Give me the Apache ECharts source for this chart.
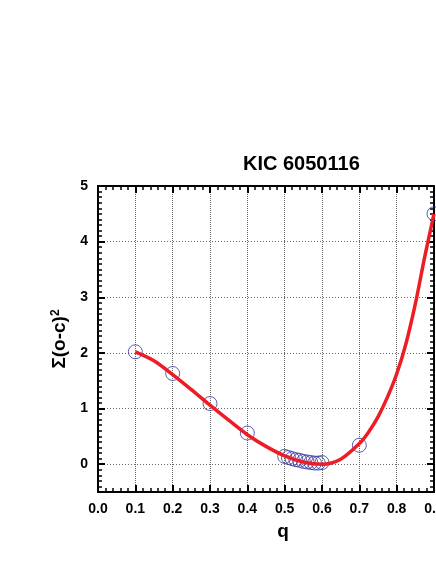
<!DOCTYPE html>
<html>
<head>
<meta charset="utf-8">
<script src="https://cdn.jsdelivr.net/npm/echarts@6/dist/echarts.min.js"></script>
<style>
  html, body { margin: 0; padding: 0; background: #fff; }
  #chart { width: 436px; height: 564px; }
</style>
</head>
<body>
<div id="chart"></div>
<script>
// observed points (open circles)
const qObs = [0.1, 0.2, 0.3, 0.4, 0.50, 0.51, 0.52, 0.53, 0.54, 0.55, 0.56, 0.57, 0.58, 0.59, 0.60, 0.7, 0.9]
const sumObs = [2.02, 1.63, 1.09, 0.56, 0.14, 0.12, 0.10, 0.08, 0.07, 0.05, 0.04, 0.03, 0.02, 0.02, 0.03, 0.34, 4.50]

// fitted curve (red line)
const qFit = [0.10, 0.15, 0.20, 0.25, 0.30, 0.35, 0.40, 0.45, 0.50, 0.55, 0.60, 0.65, 0.70, 0.725, 0.75, 0.775, 0.80, 0.825, 0.85, 0.875, 0.90]
const sumFit = [2.02, 1.86, 1.61, 1.34, 1.06, 0.79, 0.53, 0.32, 0.15, 0.04, 0.00, 0.09, 0.37, 0.58, 0.85, 1.20, 1.62, 2.17, 2.88, 3.72, 4.50]

const xTickLabels = ['0.0', '0.1', '0.2', '0.3', '0.4', '0.5', '0.6', '0.7', '0.8', '0.9']

const font = 'Liberation Sans, Arial, sans-serif'

const axisCommon = {
  axisLine: { show: true, onZero: false, lineStyle: { color: '#000', width: 2 } },
  axisTick: { show: true, inside: true, length: 7, lineStyle: { color: '#000', width: 2 } },
  minorTick: { show: true, length: 4, lineStyle: { color: '#000', width: 1.5 } }
}

const chart = echarts.init(document.getElementById('chart'), null, { renderer: 'canvas' })

chart.setOption({
  animation: false,
  backgroundColor: '#fff',
  title: {
    text: 'KIC 6050116',
    left: 243,
    top: 154,
    padding: 0,
    textStyle: { fontFamily: font, fontWeight: 'bold', fontSize: 20, color: '#000' }
  },
  grid: { left: 98, right: 2, top: 186, bottom: 72, outerBoundsMode: 'none', containLabel: false },
  xAxis: [
    {
      ...axisCommon,
      type: 'value',
      position: 'bottom',
      min: 0,
      max: 0.9,
      interval: 0.1,
      minorTick: { ...axisCommon.minorTick, splitNumber: 5 },
      name: 'q',
      nameLocation: 'middle',
      nameGap: 30,
      nameTextStyle: { fontFamily: font, fontWeight: 'bold', fontSize: 19, color: '#000', padding: [0, 0, 0, 34] },
      axisLabel: {
        margin: 10,
        hideOverlap: false,
        fontFamily: font, fontWeight: 'bold', fontSize: 14, color: '#000',
        formatter: v => xTickLabels[Math.round(v * 10)]
      },
      splitLine: { show: true, lineStyle: { color: '#666', width: 1, type: [1, 1] } }
    },
    {
      ...axisCommon,
      type: 'value',
      position: 'top',
      min: 0,
      max: 0.9,
      interval: 0.1,
      minorTick: { ...axisCommon.minorTick, splitNumber: 5 },
      axisLabel: { show: false },
      splitLine: { show: false }
    }
  ],
  yAxis: [
    {
      ...axisCommon,
      type: 'value',
      position: 'left',
      min: -0.5,
      max: 5,
      splitNumber: 5,
      minorTick: { ...axisCommon.minorTick, splitNumber: 10 },
      name: 'Σ(o-c){sup|2}',
      nameLocation: 'middle',
      nameGap: 24,
      nameTextStyle: {
        fontFamily: font, fontWeight: 'bold', fontSize: 19, color: '#000',
        rich: { sup: { fontFamily: font, fontWeight: 'bold', fontSize: 12, color: '#000', verticalAlign: 'top', padding: [0, 0, 8, 0] } }
      },
      axisLabel: {
        margin: 10,
        fontFamily: font, fontWeight: 'bold', fontSize: 14, color: '#000',
        formatter: v => (v < 0 ? '' : String(v))
      },
      splitLine: { show: true, lineStyle: { color: '#666', width: 1, type: [1, 2] } }
    },
    {
      ...axisCommon,
      type: 'value',
      position: 'right',
      min: -0.5,
      max: 5,
      splitNumber: 5,
      minorTick: { ...axisCommon.minorTick, splitNumber: 10 },
      axisLabel: { show: false },
      splitLine: { show: false }
    }
  ],
  series: [
    {
      type: 'scatter',
      data: qObs.map((q, i) => [q, sumObs[i]]),
      symbol: 'circle',
      symbolSize: 14,
      itemStyle: { color: 'rgba(255,255,255,0)', borderColor: '#34349e', borderWidth: 1 },
      z: 2
    },
    {
      type: 'line',
      data: qFit.map((q, i) => [q, sumFit[i]]),
      smooth: 0.3,
      showSymbol: false,
      lineStyle: { color: '#ee1c24', width: 3.5 },
      z: 3
    }
  ]
})
</script>
</body>
</html>
